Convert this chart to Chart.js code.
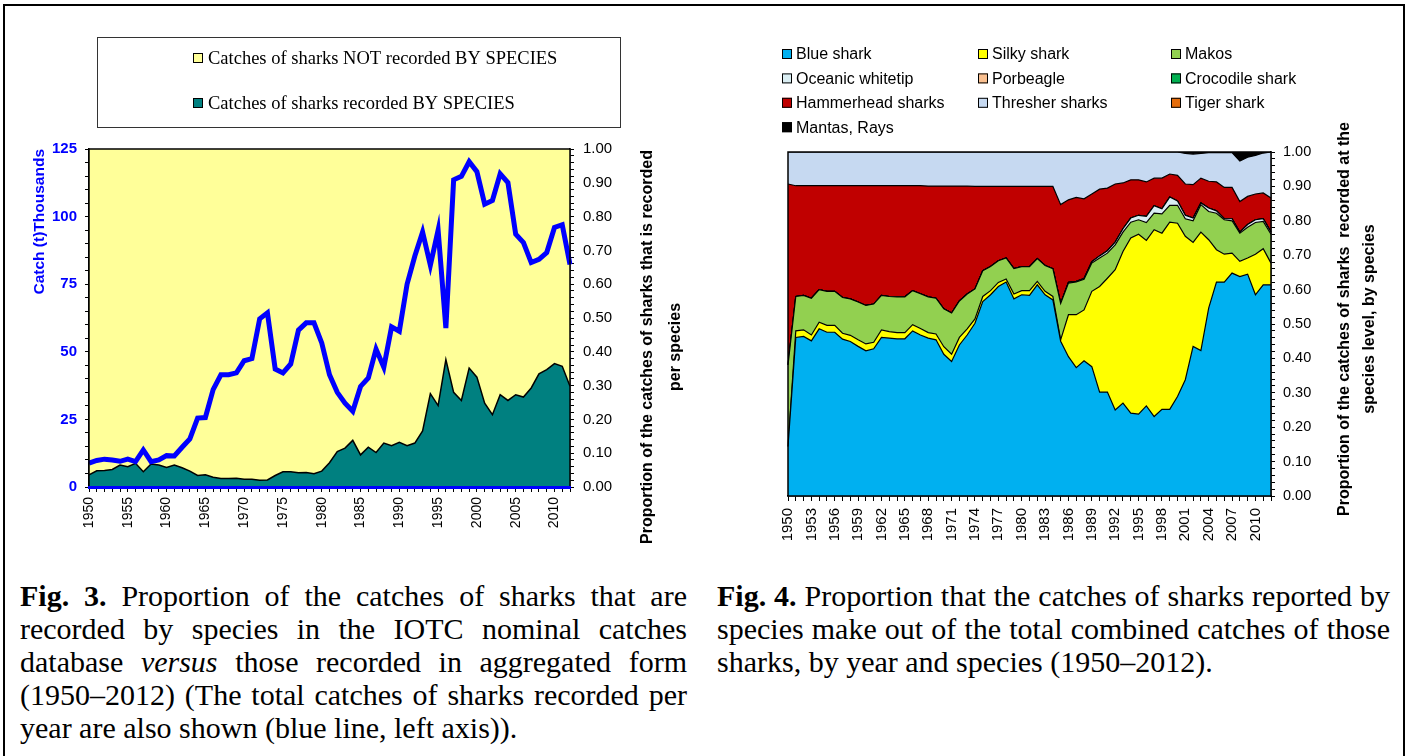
<!DOCTYPE html>
<html>
<head>
<meta charset="utf-8">
<script src="https://cdn.jsdelivr.net/npm/chart.js@4.4.1/dist/chart.umd.min.js"></script>
<style>
  html, body { margin: 0; padding: 0; background: #fff; }
  body { width: 1410px; height: 756px; position: relative; overflow: hidden; }
  #frame { position: absolute; left: 3px; top: 4px; width: 1398px; height: 760px; border: 2px solid #000; }
  canvas { position: absolute; top: 0; }
  #fig3 { left: 0; }
  #fig4 { left: 700px; }
  .caption { position: absolute; top: 579px; font-family: 'Liberation Serif', 'Times New Roman', serif; font-size: 30px; line-height: 33px; color: #000; }
  .caption div { text-align: justify; text-align-last: justify; }
  .caption div.last { text-align-last: left; }
  #cap3 { left: 20px; width: 667px; }
  #cap4 { left: 717px; width: 673px; }
</style>
</head>
<body>
<div id="frame"></div>
<canvas id="fig3" width="700" height="560"></canvas>
<canvas id="fig4" width="710" height="560"></canvas>
<div class="caption" id="cap3">
  <div><b>Fig. 3.</b> Proportion of the catches of sharks that are</div>
  <div>recorded by species in the IOTC nominal catches</div>
  <div>database <i>versus</i> those recorded in aggregated form</div>
  <div>(1950–2012) (The total catches of sharks recorded per</div>
  <div class="last">year are also shown (blue line, left axis)).</div>
</div>
<div class="caption" id="cap4">
  <div><b>Fig. 4.</b> Proportion that the catches of sharks reported by</div>
  <div>species make out of the total combined catches of those</div>
  <div class="last">sharks, by year and species (1950–2012).</div>
</div>
<script>
// years on both x axes
const years = [
  1950, 1951, 1952, 1953, 1954, 1955, 1956, 1957, 1958, 1959,
  1960, 1961, 1962, 1963, 1964, 1965, 1966, 1967, 1968, 1969,
  1970, 1971, 1972, 1973, 1974, 1975, 1976, 1977, 1978, 1979,
  1980, 1981, 1982, 1983, 1984, 1985, 1986, 1987, 1988, 1989,
  1990, 1991, 1992, 1993, 1994, 1995, 1996, 1997, 1998, 1999,
  2000, 2001, 2002, 2003, 2004, 2005, 2006, 2007, 2008, 2009,
  2010, 2011, 2012
];

// Fig. 3 - total shark catch (thousand t, left axis)
const totalCatch = [
  8.8, 9.8, 10.3, 10.0, 9.5, 10.3, 9.4, 13.7, 9.4, 10.0,
  11.6, 11.5, 14.7, 17.8, 25.5, 25.7, 36.0, 41.5, 41.5, 42.2,
  46.7, 47.5, 62.2, 64.4, 43.6, 42.2, 45.5, 58.0, 60.7, 60.7,
  53.3, 41.5, 35.0, 31.0, 28.0, 37.2, 40.3, 51.0, 44.3, 59.2,
  57.6, 75.0, 85.4, 94.3, 82.0, 95.0, 58.8, 113.6, 114.9, 120.3,
  116.6, 104.6, 106.0, 115.8, 112.6, 93.5, 90.4, 83.0, 84.2, 86.7,
  96.0, 97.0, 82.3
];

// Fig. 3 - share of catches recorded by species (right axis)
const recordedShare = [
  0.036, 0.048, 0.049, 0.052, 0.065, 0.060, 0.070, 0.045, 0.068, 0.065,
  0.058, 0.065, 0.057, 0.047, 0.034, 0.036, 0.029, 0.025, 0.025, 0.026,
  0.023, 0.023, 0.020, 0.021, 0.034, 0.045, 0.045, 0.042, 0.043, 0.039,
  0.047, 0.072, 0.105, 0.115, 0.138, 0.095, 0.118, 0.102, 0.130, 0.122,
  0.132, 0.122, 0.130, 0.166, 0.276, 0.241, 0.377, 0.280, 0.256, 0.352,
  0.325, 0.248, 0.214, 0.273, 0.256, 0.273, 0.266, 0.293, 0.335, 0.347,
  0.365, 0.357, 0.298
];

// Fig. 4 - proportion by species
const blueShark = [
  0.144, 0.461, 0.464, 0.451, 0.486, 0.476, 0.476, 0.456, 0.449, 0.435,
  0.422, 0.428, 0.461, 0.459, 0.457, 0.457, 0.480, 0.468, 0.459, 0.454,
  0.412, 0.391, 0.439, 0.468, 0.502, 0.565, 0.585, 0.609, 0.622, 0.573,
  0.585, 0.583, 0.614, 0.585, 0.570, 0.450, 0.405, 0.373, 0.393, 0.376,
  0.302, 0.302, 0.250, 0.270, 0.241, 0.238, 0.262, 0.231, 0.252, 0.252,
  0.289, 0.338, 0.435, 0.423, 0.546, 0.622, 0.622, 0.648, 0.638, 0.645,
  0.585, 0.614, 0.614
];
const silkyShark = [
  0.000, 0.019, 0.019, 0.017, 0.019, 0.020, 0.020, 0.017, 0.018, 0.019,
  0.020, 0.019, 0.022, 0.019, 0.018, 0.018, 0.018, 0.019, 0.016, 0.017,
  0.022, 0.021, 0.022, 0.018, 0.013, 0.015, 0.012, 0.012, 0.009, 0.014,
  0.012, 0.014, 0.010, 0.010, 0.010, 0.004, 0.122, 0.154, 0.148, 0.219,
  0.307, 0.331, 0.408, 0.441, 0.509, 0.523, 0.481, 0.543, 0.512, 0.544,
  0.504, 0.417, 0.302, 0.344, 0.199, 0.094, 0.081, 0.058, 0.044, 0.047,
  0.118, 0.105, 0.063
];
const makos = [
  0.237, 0.100, 0.100, 0.107, 0.095, 0.099, 0.099, 0.104, 0.106, 0.110,
  0.112, 0.111, 0.100, 0.102, 0.104, 0.104, 0.099, 0.101, 0.104, 0.104,
  0.110, 0.120, 0.106, 0.101, 0.087, 0.075, 0.070, 0.063, 0.061, 0.074,
  0.070, 0.070, 0.066, 0.075, 0.081, 0.106, 0.092, 0.095, 0.089, 0.082,
  0.083, 0.073, 0.072, 0.056, 0.046, 0.042, 0.052, 0.048, 0.056, 0.049,
  0.052, 0.051, 0.063, 0.080, 0.082, 0.106, 0.100, 0.094, 0.082, 0.089,
  0.092, 0.079, 0.084
];
const oceanicWhitetip = [
  0, 0, 0, 0, 0, 0, 0, 0, 0, 0,
  0, 0, 0, 0, 0, 0, 0, 0, 0, 0,
  0, 0, 0, 0, 0, 0, 0, 0, 0, 0,
  0, 0, 0, 0, 0, 0, 0.002, 0.002, 0.002, 0.004,
  0.006, 0.007, 0.008, 0.010, 0.012, 0.013, 0.018, 0.022, 0.015, 0.024,
  0.013, 0.010, 0.008, 0.005, 0.010, 0.007, 0.003, 0.006, 0.003, 0.008,
  0.008, 0.008, 0.006
];
const porbeagle = [
  0, 0, 0, 0, 0, 0, 0, 0, 0, 0,
  0, 0, 0, 0, 0, 0, 0, 0, 0, 0,
  0, 0, 0, 0, 0, 0, 0, 0, 0, 0,
  0, 0, 0, 0, 0, 0, 0, 0, 0, 0,
  0, 0, 0, 0, 0, 0, 0, 0, 0, 0,
  0, 0, 0, 0, 0, 0, 0, 0, 0, 0,
  0, 0, 0
];
const crocodileShark = [
  0, 0, 0, 0, 0, 0, 0, 0, 0, 0,
  0, 0, 0, 0, 0, 0, 0, 0, 0, 0,
  0, 0, 0, 0, 0, 0, 0, 0, 0, 0,
  0, 0, 0, 0, 0, 0, 0, 0, 0, 0,
  0, 0, 0, 0, 0, 0, 0, 0, 0, 0,
  0, 0, 0, 0, 0, 0, 0, 0, 0, 0,
  0, 0, 0
];
const hammerhead = [
  0.526, 0.322, 0.319, 0.327, 0.302, 0.307, 0.307, 0.325, 0.329, 0.338,
  0.348, 0.344, 0.319, 0.322, 0.323, 0.323, 0.305, 0.314, 0.322, 0.326,
  0.357, 0.369, 0.334, 0.314, 0.298, 0.245, 0.233, 0.216, 0.208, 0.239,
  0.233, 0.233, 0.210, 0.230, 0.239, 0.287, 0.240, 0.244, 0.232, 0.197,
  0.194, 0.182, 0.169, 0.133, 0.111, 0.103, 0.100, 0.080, 0.089, 0.067,
  0.074, 0.091, 0.097, 0.072, 0.078, 0.084, 0.091, 0.091, 0.089, 0.082,
  0.075, 0.075, 0.099
];
const thresher = [
  0.093, 0.098, 0.098, 0.098, 0.098, 0.098, 0.098, 0.098, 0.098, 0.098,
  0.098, 0.098, 0.098, 0.098, 0.098, 0.098, 0.098, 0.098, 0.099, 0.099,
  0.099, 0.099, 0.099, 0.099, 0.100, 0.100, 0.100, 0.100, 0.100, 0.100,
  0.100, 0.100, 0.100, 0.100, 0.100, 0.153, 0.139, 0.132, 0.136, 0.122,
  0.108, 0.105, 0.093, 0.090, 0.081, 0.081, 0.087, 0.076, 0.076, 0.064,
  0.068, 0.089, 0.089, 0.072, 0.083, 0.085, 0.101, 0.101, 0.118, 0.114,
  0.112, 0.116, 0.134
];
const tigerShark = [
  0, 0, 0, 0, 0, 0, 0, 0, 0, 0,
  0, 0, 0, 0, 0, 0, 0, 0, 0, 0,
  0, 0, 0, 0, 0, 0, 0, 0, 0, 0,
  0, 0, 0, 0, 0, 0, 0, 0, 0, 0,
  0, 0, 0, 0, 0, 0, 0, 0, 0, 0,
  0, 0, 0, 0, 0, 0, 0, 0, 0, 0,
  0, 0, 0
];
const mantasRays = [
  0, 0, 0, 0, 0, 0, 0, 0, 0, 0,
  0, 0, 0, 0, 0, 0, 0, 0, 0, 0,
  0, 0, 0, 0, 0, 0, 0, 0, 0, 0,
  0, 0, 0, 0, 0, 0, 0, 0, 0, 0,
  0, 0, 0, 0, 0, 0, 0, 0, 0, 0,
  0, 0.004, 0.006, 0.004, 0.002, 0.002, 0.002, 0.002, 0.026, 0.015,
  0.010, 0.003, 0
];

const species = [
  ['Blue shark', blueShark, '#00B0F0'],
  ['Silky shark', silkyShark, '#FFFF00'],
  ['Makos', makos, '#92D050'],
  ['Oceanic whitetip', oceanicWhitetip, '#DAEEF3'],
  ['Porbeagle', porbeagle, '#FAC090'],
  ['Crocodile shark', crocodileShark, '#00B050'],
  ['Hammerhead sharks', hammerhead, '#C00000'],
  ['Thresher sharks', thresher, '#C6D9F1'],
  ['Tiger shark', tigerShark, '#E46C0A'],
  ['Mantas, Rays', mantasRays, '#000000'],
];

Chart.defaults.font.family = "'Liberation Sans', Arial, sans-serif";
Chart.defaults.color = '#000';
Chart.defaults.animation = false;

// legend drawn as a grid of boxes (optionally framed)
const gridLegend = {
  id: 'gridLegend',
  afterDraw(chart, args, opts) {
    const ctx = chart.ctx;
    ctx.save();
    if (opts.frame) {
      ctx.strokeStyle = '#333';
      ctx.lineWidth = 1;
      ctx.strokeRect(...opts.frame);
    }
    ctx.font = opts.font;
    ctx.textBaseline = 'middle';
    ctx.textAlign = 'left';
    opts.items.forEach((idx, k) => {
      const ds = chart.data.datasets[idx];
      const x = opts.colX[k % opts.colX.length];
      const y = opts.y + Math.floor(k / opts.colX.length) * opts.rowHeight;
      ctx.fillStyle = ds.backgroundColor;
      ctx.fillRect(x, y - 5, 10, 10);
      ctx.strokeStyle = '#000';
      ctx.lineWidth = 1;
      ctx.strokeRect(x + 0.5, y - 4.5, 9, 9);
      ctx.fillStyle = '#000';
      ctx.fillText(ds.label, x + opts.textGap, y + 1);
    });
    ctx.restore();
  }
};

// right-hand axis title, reading bottom to top like the left one
const sideTitle = {
  id: 'sideTitle',
  afterDraw(chart, args, opts) {
    const ctx = chart.ctx;
    ctx.save();
    ctx.font = opts.font;
    ctx.fillStyle = '#000';
    ctx.textAlign = 'center';
    ctx.textBaseline = 'middle';
    opts.lines.forEach((line, i) => {
      ctx.save();
      ctx.translate(opts.x[i], opts.y);
      ctx.rotate(-Math.PI / 2);
      ctx.fillText(line, 0, 0);
      ctx.restore();
    });
    ctx.restore();
  }
};

const plotFrame = {
  id: 'plotFrame',
  afterDatasetsDraw(chart) {
    const {ctx, chartArea: a} = chart;
    ctx.save();
    ctx.strokeStyle = '#000';
    ctx.lineWidth = 1.5;
    ctx.strokeRect(a.left, a.top, a.right - a.left, a.bottom - a.top);
    ctx.restore();
  }
};

// ---------- Fig. 3 ----------
new Chart(document.getElementById('fig3'), {
  type: 'line',
  data: {
    labels: years,
    datasets: [
      {
        label: 'Catches of sharks NOT recorded BY SPECIES',
        data: recordedShare, yAxisID: 'y2', fill: 'end',
        backgroundColor: '#FFFF99', borderColor: 'transparent', borderWidth: 0,
        pointRadius: 0, order: 2
      },
      {
        label: 'Catches of sharks recorded BY SPECIES',
        data: recordedShare, yAxisID: 'y2', fill: 'origin',
        backgroundColor: '#008080', borderColor: '#000', borderWidth: 1.5,
        pointRadius: 0, order: 1
      },
      {
        label: 'Total catches of sharks',
        data: totalCatch, yAxisID: 'y', fill: false,
        borderColor: '#0000FF', borderWidth: 5,
        pointRadius: 0, order: 0
      }
    ]
  },
  options: {
    responsive: false,
    layout: { padding: { left: 26, right: 0, top: 149, bottom: 13 } },
    plugins: {
      legend: { display: false },
      tooltip: { enabled: false },
      gridLegend: {
        items: [0, 1], colX: [193], y: 58, rowHeight: 45, textGap: 15,
        font: "18.5px 'Liberation Serif', 'Times New Roman', serif",
        frame: [97.5, 37.5, 523, 90]
      },
      sideTitle: {
        lines: ['Proportion of the catches of sharks that is recorded', 'per species'],
        x: [648, 676], y: 347,
        font: "bold 16px 'Liberation Sans', Arial, sans-serif"
      }
    },
    scales: {
      x: {
        grid: { drawOnChartArea: false, tickLength: 5, color: '#000' },
        border: { color: '#0000FF', width: 3, z: 1 },
        ticks: {
          autoSkip: false, minRotation: 90, maxRotation: 90, padding: 5,
          font: { size: 14 },
          callback: (v, i) => years[i] % 5 === 0 ? String(years[i]) : ''
        },
        afterFit: (s) => { s.height = 60; }
      },
      y: {
        position: 'left', min: 0, max: 125,
        grid: { drawOnChartArea: false, tickLength: 4, color: '#000' },
        border: { color: '#000', width: 1.5 },
        ticks: {
          stepSize: 5, autoSkip: false, padding: 8, color: '#0000FF',
          font: { size: 15, weight: 'bold' },
          callback: (v) => v % 25 === 0 ? v : ''
        },
        title: {
          display: true, text: 'Catch (t)Thousands', align: 'end',
          color: '#0000FF', font: { size: 15.5, weight: 'bold' }
        },
        afterFit: (s) => { s.width = 63; }
      },
      y2: {
        position: 'right', min: 0, max: 1,
        grid: { drawOnChartArea: false, tickLength: 4, color: '#000' },
        border: { color: '#000', width: 1.5 },
        ticks: {
          stepSize: 0.02, autoSkip: false, padding: 9,
          font: { size: 15 },
          callback: (v) => Math.round(v * 100) % 10 === 0 ? v.toFixed(2) : ''
        },
        afterFit: (s) => { s.width = 130; }
      }
    }
  },
  plugins: [plotFrame, gridLegend, sideTitle]
});

// ---------- Fig. 4 ----------
new Chart(document.getElementById('fig4'), {
  type: 'line',
  data: {
    labels: years,
    datasets: species.map(([label, values, color], i) => ({
      label: label,
      data: values,
      backgroundColor: color,
      borderColor: '#000',
      borderWidth: 1.2,
      fill: i === 0 ? 'origin' : '-1',
      pointRadius: 0
    }))
  },
  options: {
    responsive: false,
    layout: { padding: { left: 88, right: 0, top: 152, bottom: 4 } },
    plugins: {
      legend: { display: false },
      tooltip: { enabled: false },
      gridLegend: {
        items: [0, 1, 2, 3, 4, 5, 6, 7, 8, 9], colX: [82, 278, 471], y: 54, rowHeight: 24.4, textGap: 14,
        font: "16px 'Liberation Sans', Arial, sans-serif"
      },
      sideTitle: {
        lines: ['Proportion of the catches of sharks  recorded at the', 'species level, by species'],
        x: [645, 670], y: 319,
        font: "bold 16px 'Liberation Sans', Arial, sans-serif"
      }
    },
    scales: {
      x: {
        grid: { drawOnChartArea: false, tickLength: 5, color: '#000' },
        border: { color: '#000', width: 1.5 },
        ticks: {
          autoSkip: false, minRotation: 90, maxRotation: 90, padding: 7,
          font: { size: 15 },
          callback: (v, i) => (years[i] - 1950) % 3 === 0 ? String(years[i]) : ''
        },
        afterFit: (s) => { s.height = 60; }
      },
      y: {
        position: 'right', stacked: true, min: 0, max: 1,
        grid: { drawOnChartArea: false, tickLength: 4, color: '#000' },
        border: { color: '#000', width: 1.5 },
        ticks: {
          stepSize: 0.02, autoSkip: false, padding: 8,
          font: { size: 14.5 },
          callback: (v) => Math.round(v * 100) % 10 === 0 ? v.toFixed(2) : ''
        },
        afterFit: (s) => { s.width = 139; }
      }
    }
  },
  plugins: [plotFrame, gridLegend, sideTitle]
});
</script>
</body>
</html>
